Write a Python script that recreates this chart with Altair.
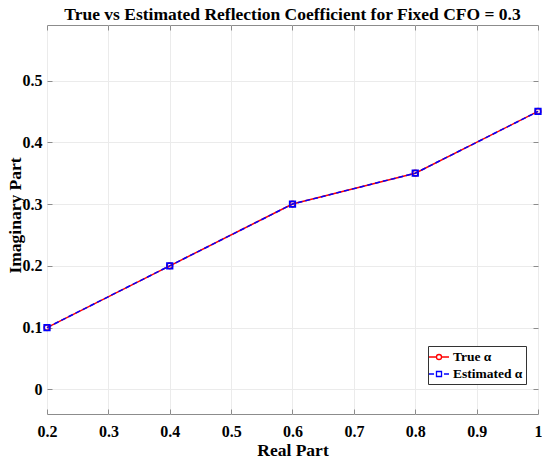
import altair as alt
import pandas as pd

real_part = [0.2, 0.4, 0.6, 0.8, 1.0]
imag_true = [0.1, 0.2, 0.3, 0.35, 0.45]
imag_est = [0.1, 0.2, 0.3, 0.35, 0.45]
series_names = ["True α", "Estimated α"]
x_ticks = [0.2, 0.3, 0.4, 0.5, 0.6, 0.7, 0.8, 0.9, 1.0]
y_ticks = [0, 0.1, 0.2, 0.3, 0.4, 0.5]

rows = []
for xv, yv in zip(real_part, imag_true):
    rows.append({"x": xv, "y": yv, "series": series_names[0]})
for xv, yv in zip(real_part, imag_est):
    rows.append({"x": xv, "y": yv, "series": series_names[1]})
df = pd.DataFrame(rows)

FONT = "Liberation Serif"
RED = "#FF0000"
BLUE = "#0000FF"
GRID = "#EBEBEB"
EDGE = "#8C8C8C"

xscale = alt.Scale(domain=[0.2, 1.0], nice=False, zero=False)
yscale = alt.Scale(domain=[-0.04, 0.59], nice=False, zero=False)

main_x_axis = alt.Axis(orient="bottom", values=x_ticks, format="~g", title="Real Part",
                       grid=True, gridColor=GRID, domain=False, offset=-5, tickSize=5,
                       tickColor=EDGE, labelPadding=9, titlePadding=2, labelFlush=False)
main_y_axis = alt.Axis(orient="left", values=y_ticks, format="~g", title="Imaginary Part",
                       grid=True, gridColor=GRID, domain=False, offset=-5, tickSize=5,
                       tickColor=EDGE, labelPadding=5, titleX=-28, titleY=190,
                       labelFlush=False)
top_x_axis = alt.Axis(orient="top", values=x_ticks, labels=False, title=None, grid=False,
                      domain=False, offset=-5, tickSize=5, tickColor=EDGE)
right_y_axis = alt.Axis(orient="right", values=y_ticks, labels=False, title=None, grid=False,
                        domain=False, offset=-5, tickSize=5, tickColor=EDGE)

base = alt.Chart(df)

line_true = base.transform_filter(alt.datum.series == series_names[0]).mark_line(
    color=RED, strokeWidth=1.5
).encode(
    x=alt.X("x:Q", scale=xscale, axis=main_x_axis),
    y=alt.Y("y:Q", scale=yscale, axis=main_y_axis),
)

line_est = base.transform_filter(alt.datum.series == series_names[1]).mark_line(
    color=BLUE, strokeWidth=1.5, strokeDash=[5, 3]
).encode(
    x=alt.X("x:Q", scale=xscale, axis=top_x_axis),
    y=alt.Y("y:Q", scale=yscale, axis=right_y_axis),
)

pts_true = base.transform_filter(alt.datum.series == series_names[0]).mark_point(
    shape="circle", filled=False, color=RED, size=32, strokeWidth=1.5, opacity=1
).encode(
    x=alt.X("x:Q", scale=xscale, axis=None),
    y=alt.Y("y:Q", scale=yscale, axis=None),
)

pts_est = base.transform_filter(alt.datum.series == series_names[1]).mark_point(
    shape="square", filled=False, color=BLUE, size=30, strokeWidth=1.8, opacity=1
).encode(
    x=alt.X("x:Q", scale=xscale, axis=None),
    y=alt.Y("y:Q", scale=yscale, axis=None),
)

legend_paths = [
    "M-1.43,0H-0.36M0.36,0H1.43M-0.36,0A0.36,0.36,0,1,1,0.36,0A0.36,0.36,0,1,1,-0.36,0Z",
    "M-1.43,0H-0.71M0.71,0H1.43M-0.36,-0.36H0.36V0.36H-0.36Z",
]

legend_layer = base.transform_filter("datum.x > 100").mark_point(
    filled=False, strokeWidth=1.3, opacity=1
).encode(
    color=alt.Color("series:N", scale=alt.Scale(domain=series_names, range=[RED, BLUE]),
                    legend=alt.Legend(title=None, orient="none", legendX=381, legendY=321,
                                      strokeColor="#333333", fillColor="white", padding=3,
                                      labelFont=FONT, labelFontSize=13.5, labelFontWeight="bold",
                                      labelColor="black", symbolSize=196, symbolStrokeWidth=1.3,
                                      rowPadding=2, labelOffset=6)),
    shape=alt.Shape("series:N", scale=alt.Scale(domain=series_names, range=legend_paths)),
)

chart = alt.layer(line_true, line_est, pts_true, pts_est, legend_layer).resolve_axis(
    x="independent", y="independent"
).properties(
    width=491,
    height=389,
    autosize=alt.AutoSizeParams(type="none"),
    padding={"left": 39, "top": 17, "right": 4, "bottom": 48},
    background="white",
    title=alt.TitleParams(
        "True vs Estimated Reflection Coefficient for Fixed CFO = 0.3",
        font=FONT, fontSize=17.5, fontWeight="bold", color="black",
        anchor="middle", offset=1,
    ),
).configure_view(
    stroke=EDGE, strokeWidth=1
).configure_axis(
    labelFont=FONT, labelFontSize=16, labelFontWeight="bold", labelColor="black",
    titleFont=FONT, titleFontSize=17.5, titleFontWeight="bold", titleColor="black",
)

chart.save("out.html", embed_options={"renderer": "svg", "actions": False})
